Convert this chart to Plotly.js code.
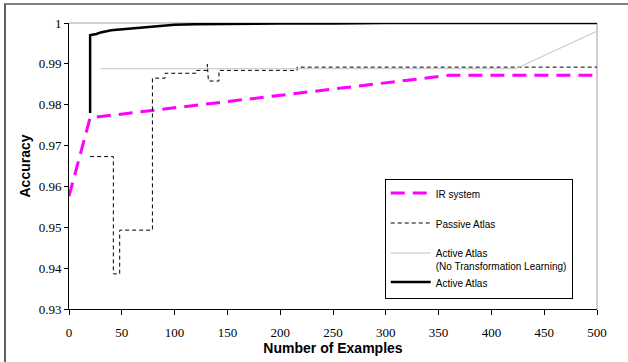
<!DOCTYPE html>
<html>
<head>
<meta charset="utf-8">
<script src="https://cdn.plot.ly/plotly-3.0.1.min.js"></script>
<style>
html,body{margin:0;padding:0;background:#fff;}
#chart{position:absolute;left:0;top:0;width:628px;height:362px;}
#frame{position:absolute;left:4px;top:3px;width:640px;height:380px;border-top:2px solid #808080;border-left:2px solid #606060;pointer-events:none;}
</style>
</head>
<body>
<div id="chart"></div>
<div id="frame"></div>
<script>
// IR system
const irX = [0, 20, 360, 500];
const irY = [0.9576, 0.9768, 0.9872, 0.9872];
// Passive Atlas
const passiveX = [20, 42, 42, 48, 48, 79, 79, 91, 91, 120, 120, 131, 131, 132, 142, 142, 216, 216, 500];
const passiveY = [0.9673, 0.9673, 0.9386, 0.9386, 0.9493, 0.9493, 0.9865, 0.9865, 0.9877, 0.9877, 0.9884, 0.9884, 0.9899, 0.9858, 0.9858, 0.9884, 0.9884, 0.9892, 0.9892];
// Active Atlas (No Transformation Learning)
const noTLX = [30, 423, 500];
const noTLY = [0.9888, 0.9888, 0.9980];
// Active Atlas
const activeX = [20, 20, 22, 26, 30, 36, 40, 48, 56, 64, 70, 76, 86, 100, 120, 150, 200, 250, 300, 400, 500];
const activeY = [0.9780, 0.9970, 0.9971, 0.9973, 0.9977, 0.9981, 0.9982, 0.9984, 0.9986, 0.9987, 0.9989, 0.9990, 0.9994, 0.9996, 0.9997, 0.9998, 0.9999, 0.9999, 1.0, 1.0, 1.0];

const names = ['IR system', 'Passive Atlas', 'Active Atlas<br>(No Transformation Learning)', 'Active Atlas'];

const serif = '"Liberation Serif", "Times New Roman", Times, serif';
const sans = '"Liberation Sans", Arial, Helvetica, sans-serif';

const traces = [
  {x: irX, y: irY, name: names[0], mode: 'lines', legendgroup: 'a',
   line: {color: '#FF00FF', width: 3, dash: '14px,8px'}},
  {x: passiveX, y: passiveY, name: names[1], mode: 'lines', legendgroup: 'b',
   line: {color: '#000000', width: 1, dash: '4px,3px'}},
  {x: noTLX, y: noTLY, name: names[2], mode: 'lines', legendgroup: 'c',
   line: {color: '#C0C0C0', width: 1}},
  {x: activeX, y: activeY, name: names[3], mode: 'lines', legendgroup: 'c',
   line: {color: '#000000', width: 2.5}}
];

const layout = {
  width: 628, height: 362,
  margin: {l: 69, r: 31, t: 23, b: 53},
  paper_bgcolor: '#ffffff', plot_bgcolor: '#ffffff',
  showlegend: true,
  legend: {
    x: 0.598, y: 0.4545, xanchor: 'left', yanchor: 'top',
    bordercolor: '#000000', borderwidth: 1, bgcolor: '#ffffff',
    font: {family: sans, size: 10, color: '#000'},
    tracegroupgap: 11, valign: 'top', traceorder: 'grouped', itemwidth: 40
  },
  xaxis: {
    range: [0, 500], dtick: 50, tick0: 0,
    showgrid: false, zeroline: false,
    showline: true, linecolor: '#000', linewidth: 1,
    ticks: 'outside', ticklen: 5, tickcolor: '#000', tickwidth: 1,
    ticklabelstandoff: 6,
    tickfont: {family: serif, size: 13, color: '#000'},
    title: {text: 'Number of Examples', standoff: 0,
      font: {family: sans, size: 14, color: '#000', weight: 'bold'}}
  },
  yaxis: {
    range: [0.93, 1], dtick: 0.01, tick0: 0.93,
    showgrid: false, zeroline: false,
    showline: true, linecolor: '#000', linewidth: 1,
    ticks: 'outside', ticklen: 4, tickcolor: '#000', tickwidth: 1,
    tickfont: {family: serif, size: 13, color: '#000'},
    title: {text: 'Accuracy', standoff: 4,
      font: {family: sans, size: 14, color: '#000', weight: 'bold'}}
  },
  shapes: [
    {type: 'line', xref: 'paper', yref: 'paper', x0: 0, x1: 1, y0: 1, y1: 1,
     line: {color: '#A0A0A0', width: 1}, layer: 'below'},
    {type: 'line', xref: 'paper', yref: 'paper', x0: 1, x1: 1, y0: 0, y1: 1,
     line: {color: '#A0A0A0', width: 1}, layer: 'below'}
  ]
};

Plotly.newPlot('chart', traces, layout, {displayModeBar: false, staticPlot: true});
</script>
</body>
</html>
